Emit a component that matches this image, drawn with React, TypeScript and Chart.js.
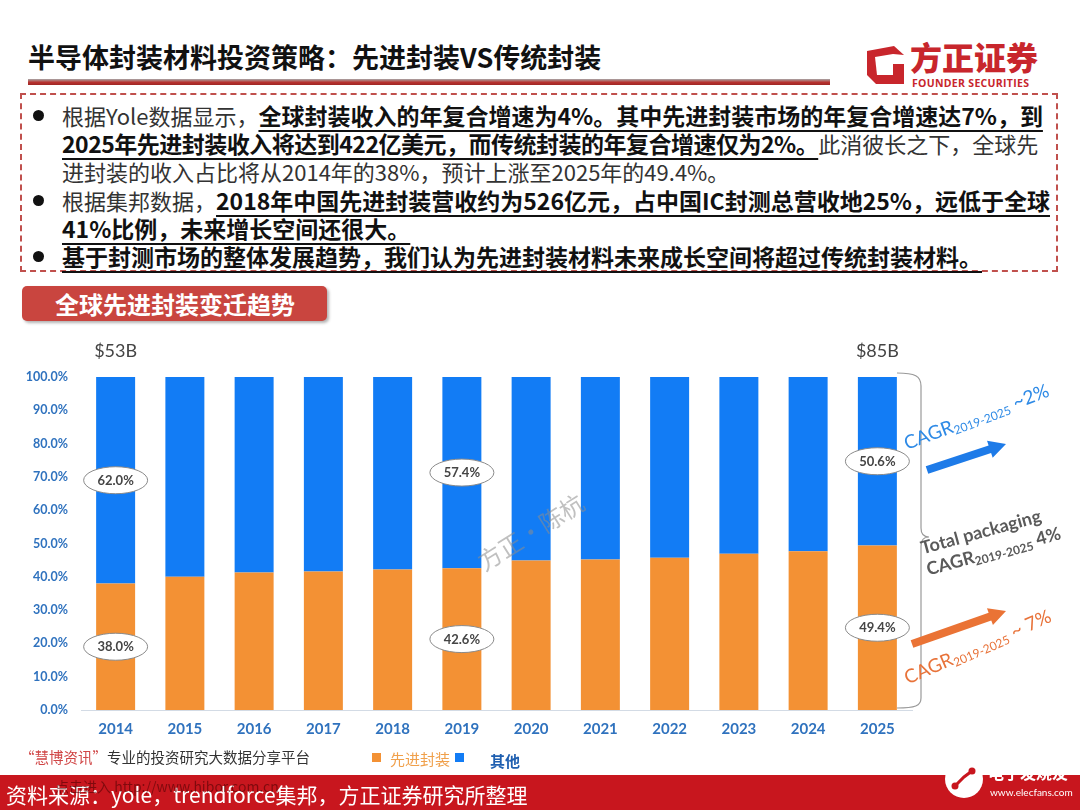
import React, { useEffect, useRef } from 'react';
import { Chart, registerables } from 'chart.js';

Chart.register(...registerables);

// ---------- data ----------
const years = ['2014', '2015', '2016', '2017', '2018', '2019', '2020', '2021', '2022', '2023', '2024', '2025'];
const advancedShare = [38.0, 40.0, 41.3, 41.6, 42.2, 42.6, 44.9, 45.2, 45.7, 46.9, 47.7, 49.4];
const otherShare = [62.0, 60.0, 58.7, 58.4, 57.8, 57.4, 55.1, 54.8, 54.3, 53.1, 52.3, 50.6];
const seriesNames = ['先进封装', '其他'];
const labeledYears = ['2014', '2019', '2025'];
const marketYears = ['2014', '2025'];
const marketSizes = ['$53B', '$85B'];

const ORANGE = '#F39134';
const BLUE = '#127CF5';
const AXIS_BLUE = '#2F72BE';
const CJK = "'Noto Sans CJK SC', 'Noto Sans', sans-serif";
const LATIN = "Lato, 'Noto Sans', sans-serif";

const annotatePlugin = {
  id: 'annotate',
  afterDatasetsDraw(chart: any) {
    const ctx = chart.ctx;
    const ys = chart.scales.y;
    const meta = chart.getDatasetMeta(0);
    const drawEllipse = (x: number, y: number, text: string) => {
      ctx.save();
      ctx.beginPath();
      ctx.ellipse(x, y, 32, 13.5, 0, 0, Math.PI * 2);
      ctx.fillStyle = '#ffffff';
      ctx.fill();
      ctx.lineWidth = 1;
      ctx.strokeStyle = '#8a8a8a';
      ctx.stroke();
      ctx.fillStyle = '#454545';
      ctx.font = `bold 13px ${LATIN}`;
      ctx.textAlign = 'center';
      ctx.textBaseline = 'middle';
      ctx.fillText(text, x, y + 0.5);
      ctx.restore();
    };
    labeledYears.forEach((yr) => {
      const i = years.indexOf(yr);
      const x = meta.data[i].x;
      const a = advancedShare[i];
      const o = otherShare[i];
      drawEllipse(x, ys.getPixelForValue(a / 2), a.toFixed(1) + '%');
      drawEllipse(x, ys.getPixelForValue(a + o / 2), o.toFixed(1) + '%');
    });
    marketYears.forEach((yr, k) => {
      const i = years.indexOf(yr);
      const x = meta.data[i].x;
      ctx.save();
      ctx.fillStyle = '#444444';
      ctx.font = `18px ${LATIN}`;
      ctx.textAlign = 'center';
      ctx.textBaseline = 'middle';
      ctx.fillText(marketSizes[k], x, ys.getPixelForValue(100) - 26);
      ctx.restore();
    });
  },
};

function arrowPts(x1: number, y1: number, x2: number, y2: number, bw: number, hl: number, hw: number) {
  const dx = x2 - x1, dy = y2 - y1;
  const L = Math.hypot(dx, dy);
  const ux = dx / L, uy = dy / L;
  const nx = -uy, ny = ux;
  const bx = x2 - ux * hl, by = y2 - uy * hl;
  const p = [
    [x1 + nx * bw / 2, y1 + ny * bw / 2],
    [bx + nx * bw / 2, by + ny * bw / 2],
    [bx + nx * hw, by + ny * hw],
    [x2, y2],
    [bx - nx * hw, by - ny * hw],
    [bx - nx * bw / 2, by - ny * bw / 2],
    [x1 - nx * bw / 2, y1 - ny * bw / 2],
  ];
  return p.map((q) => q.join(',')).join(' ');
}

const B = ({ children, ls = 0 }: any) => (
  <span style={{ fontWeight: 700, fontSize: 23, letterSpacing: ls, color: '#111', textDecoration: 'underline', textDecorationThickness: '2px', textUnderlineOffset: '5px' }}>{children}</span>
);
const N = ({ children }: any) => <span style={{ color: '#333', fontSize: 22 }}>{children}</span>;

const Line = ({ top, children }: any) => (
  <div style={{ position: 'absolute', left: 62, top, height: 28, lineHeight: '28px', fontSize: 22, whiteSpace: 'nowrap' }}>{children}</div>
);
const Dot = ({ cy }: any) => (
  <div style={{ position: 'absolute', left: 33, top: cy - 5.5, width: 11, height: 11, borderRadius: '50%', background: '#111' }} />
);

const Rot = ({ x, y, angle, style, children }: any) => (
  <div style={{ position: 'absolute', left: x, top: y, transformOrigin: '0 0', transform: `rotate(${angle}deg)`, whiteSpace: 'nowrap', fontFamily: LATIN, ...style }}>{children}</div>
);

export default function App() {
  const ref = useRef<HTMLCanvasElement>(null);

  useEffect(() => {
    const chart = new Chart(ref.current as HTMLCanvasElement, {
      type: 'bar',
      data: {
        labels: years,
        datasets: [
          { label: seriesNames[0], data: advancedShare, backgroundColor: ORANGE, barPercentage: 0.563, categoryPercentage: 1 },
          { label: seriesNames[1], data: otherShare, backgroundColor: BLUE, barPercentage: 0.563, categoryPercentage: 1 },
        ],
      },
      options: {
        responsive: false,
        animation: false,
        layout: { padding: { left: 0, right: 168, top: 37, bottom: 0 } },
        plugins: { legend: { display: false }, tooltip: { enabled: false } },
        scales: {
          x: {
            stacked: true,
            grid: { color: 'rgba(0,0,0,0)', drawTicks: false, drawOnChartArea: false },
            border: { display: true, color: '#d3dbe5', width: 1 },
            ticks: { color: AXIS_BLUE, font: { family: LATIN, weight: 'bold', size: 15 }, padding: 10 },
            afterFit: (s: any) => { s.height = 40; },
          },
          y: {
            stacked: true,
            min: 0,
            max: 100,
            grid: { display: false, drawTicks: false },
            border: { display: false },
            ticks: {
              stepSize: 10,
              color: AXIS_BLUE,
              font: { family: LATIN, weight: 'bold', size: 12.5 },
              padding: 13,
              callback: (v: any) => Number(v).toFixed(1) + '%',
            },
            afterFit: (s: any) => { s.width = 81; },
          },
        },
      },
      plugins: [annotatePlugin],
    } as any);
    return () => chart.destroy();
  }, []);

  return (
    <div style={{ position: 'absolute', left: 0, top: 0, width: 1080, height: 810, background: '#fff', overflow: 'hidden', fontFamily: CJK }}>
      {/* title */}
      <div style={{ position: 'absolute', left: 28, top: 39, fontSize: 27, fontWeight: 700, color: '#111', lineHeight: '36px', whiteSpace: 'nowrap' }}>
        半导体封装材料投资策略：先进封装VS传统封装
      </div>
      <div style={{ position: 'absolute', left: 28, top: 79, width: 802, height: 6, background: 'linear-gradient(#a8a8a8, #b8322f 55%, #9e2623)' }} />

      {/* logo */}
      <svg style={{ position: 'absolute', left: 864, top: 44 }} width={42} height={42} viewBox="0 0 42 42">
        <path d="M3,7 L30,2 L40,11 L40,40 L12,40 L3,31 Z" fill="#C8262C" />
        <path d="M11,13 L29,10 L29,31 L13,31 Z" fill="#fff" />
        <path d="M29,10 L40,11 L40,20 L29,20 Z" fill="#fff" />
      </svg>
      <div style={{ position: 'absolute', left: 910, top: 36, fontSize: 32, fontWeight: 900, color: '#C8262C', lineHeight: '40px', letterSpacing: 0 }}>方正证券</div>
      <div style={{ position: 'absolute', left: 912, top: 76, fontSize: 10.5, fontWeight: 700, color: '#C8262C', fontFamily: "'Open Sans', sans-serif", letterSpacing: 0.3, whiteSpace: 'nowrap' }}>FOUNDER SECURITIES</div>

      {/* dashed text box */}
      <div style={{ position: 'absolute', left: 20, top: 93, width: 1038, height: 179, border: '2px dashed #C0504D', boxSizing: 'border-box' }} />
      <Dot cy={115} />
      <Dot cy={200} />
      <Dot cy={256} />
      <Line top={101}><N>根据Yole数据显示，</N><B>全球封装收入的年复合增速为4%。其中先进封装市场的年复合增速达7%，到</B></Line>
      <Line top={129}><B ls={-0.5}>2025年先进封装收入将达到422亿美元，而传统封装的年复合增速仅为2%。</B><N>此消彼长之下，全球先</N></Line>
      <Line top={157}><N>进封装的收入占比将从2014年的38%，预计上涨至2025年的49.4%。</N></Line>
      <Line top={186}><N>根据集邦数据，</N><B>2018年中国先进封装营收约为526亿元，占中国IC封测总营收地25%，远低于全球</B></Line>
      <Line top={214}><B>41%比例，未来增长空间还很大。</B></Line>
      <Line top={242}><B>基于封测市场的整体发展趋势，我们认为先进封装材料未来成长空间将超过传统封装材料。</B></Line>

      {/* section label */}
      <div style={{ position: 'absolute', left: 22, top: 286, width: 305, height: 35, background: '#C9453F', borderRadius: 5, boxShadow: '2px 2px 3px rgba(0,0,0,0.3)', color: '#fff', fontSize: 24, fontWeight: 700, lineHeight: '35px', paddingLeft: 33, boxSizing: 'border-box', whiteSpace: 'nowrap' }}>
        全球先进封装变迁趋势
      </div>

      {/* chart */}
      <canvas ref={ref} width={1080} height={410} style={{ position: 'absolute', left: 0, top: 340, width: 1080, height: 410 }} />

      {/* watermark */}
      <div style={{ position: 'absolute', left: 470, top: 548, transformOrigin: '0 0', transform: 'rotate(-32deg)', fontSize: 24, color: 'rgba(140,140,140,0.55)', whiteSpace: 'nowrap' }}>方正·陈杭</div>

      {/* brace and arrows */}
      <svg style={{ position: 'absolute', left: 0, top: 0, pointerEvents: 'none' }} width={1080} height={810}>
        <path d="M897,373 C915,373 921,376 921,386 L921,528 C921,534 924,537 929,537 C924,537 921,540 921,546 L921,698 C921,706 915,708 897,708" fill="none" stroke="#9a9a9a" strokeWidth={1.2} />
        <polygon points={arrowPts(927, 470, 1006, 444, 8, 17, 9)} fill="#1E7BE8" />
        <polygon points={arrowPts(912, 644, 1006, 611, 8, 17, 9)} fill="#EA7335" />
      </svg>

      <Rot x={901} y={434} angle={-20.6} style={{ fontSize: 19, color: '#2E8AE6', lineHeight: '20px' }}>
        CAGR<sub style={{ fontSize: 12, verticalAlign: '-3px' }}>2019-2025</sub> ~2%
      </Rot>
      <Rot x={918} y={537} angle={-15.4} style={{ fontSize: 18, color: '#5a5a5a', fontWeight: 700, lineHeight: '22px' }}>
        <div>Total packaging</div>
        <div>CAGR<sub style={{ fontSize: 12, verticalAlign: '-3px' }}>2019-2025</sub> 4%</div>
      </Rot>
      <Rot x={901} y={669} angle={-23.6} style={{ fontSize: 19, color: '#E8733A', lineHeight: '20px' }}>
        CAGR<sub style={{ fontSize: 12, verticalAlign: '-3px' }}>2019-2025</sub> ~ 7%
      </Rot>

      {/* footer line & legend */}
      <div style={{ position: 'absolute', left: 20, top: 747, fontSize: 14.5, lineHeight: '20px', color: '#333', whiteSpace: 'nowrap' }}>
        <span style={{ color: '#D04545' }}>“慧博资讯”</span>专业的投资研究大数据分享平台
      </div>
      <div style={{ position: 'absolute', left: 372, top: 753, width: 9, height: 9, background: ORANGE }} />
      <div style={{ position: 'absolute', left: 390, top: 749, fontSize: 15, lineHeight: '20px', color: '#F0A04B', whiteSpace: 'nowrap' }}>{seriesNames[0]}</div>
      <div style={{ position: 'absolute', left: 455, top: 753, width: 9, height: 9, background: BLUE }} />
      <div style={{ position: 'absolute', left: 490, top: 751, fontSize: 15, lineHeight: '20px', color: '#1F5FB0', fontWeight: 700, whiteSpace: 'nowrap' }}>{seriesNames[1]}</div>

      {/* bottom red bar */}
      <div style={{ position: 'absolute', left: 0, top: 775, width: 1080, height: 35, background: '#C8161E' }} />
      <div style={{ position: 'absolute', left: 6, top: 778, fontSize: 21, lineHeight: '32px', color: '#fff', whiteSpace: 'nowrap' }}>
        资料来源：yole，trendforce集邦，方正证券研究所整理
      </div>
      <div style={{ position: 'absolute', left: 55, top: 776, fontSize: 14, lineHeight: '20px', color: 'rgba(70,0,0,0.55)', whiteSpace: 'nowrap' }}>
        点击进入 http://www.hibor.com.cn
      </div>
      <div style={{ position: 'absolute', left: 945, top: 760, width: 38, height: 38, borderRadius: '50%', background: '#fff' }}>
        <svg width={38} height={38} viewBox="0 0 38 38">
          <path d="M10,26 L19,17 L27,11" stroke="#C8161E" strokeWidth={3} fill="none" />
          <circle cx={10} cy={26} r={3.5} fill="#C8161E" />
          <circle cx={27} cy={11} r={3.5} fill="#C8161E" />
        </svg>
      </div>
      <div style={{ position: 'absolute', left: 988, top: 760, fontSize: 16, fontWeight: 700, lineHeight: '24px', color: '#fff', whiteSpace: 'nowrap' }}>电子发烧友</div>
      <div style={{ position: 'absolute', left: 990, top: 786, fontSize: 10, lineHeight: '12px', color: '#fff', whiteSpace: 'nowrap', fontFamily: LATIN }}>www.elecfans.com</div>
    </div>
  );
}
